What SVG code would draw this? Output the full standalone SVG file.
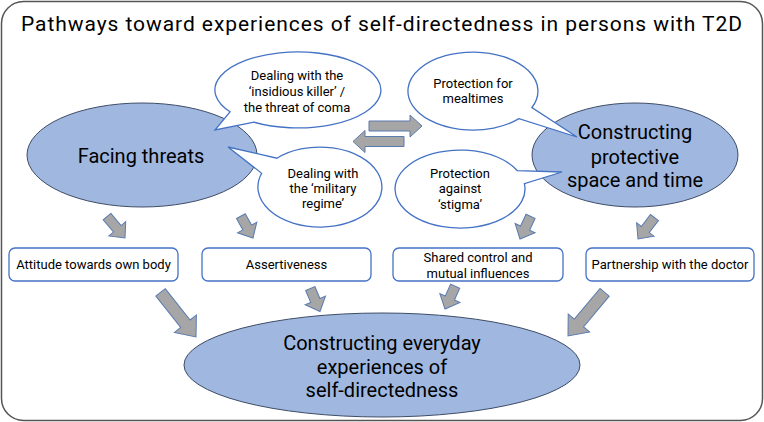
<svg xmlns="http://www.w3.org/2000/svg" width="764" height="422" viewBox="0 0 764 422">
<defs>
<style>
.t{font-family:Roboto,"Liberation Sans",sans-serif;fill:#000;text-anchor:middle}
.title{font-size:21px}
.big{font-size:20px}
.sm{font-size:13px}
.ell{fill:#a0b8e0;stroke:#3e4c66;stroke-width:1}
.bub{fill:#fff;stroke:#4472c4;stroke-width:1.3}
.box{fill:#fff;stroke:#4472c4;stroke-width:1.3}
.arr{fill:#a6a6a6;stroke:#5a7bb0;stroke-width:1}
</style>
</defs>
<rect x="1.5" y="1.5" width="761" height="419" rx="22" fill="#fff" stroke="#555" stroke-width="1.5"/>
<text class="t title" x="381.5" y="31" textLength="721" lengthAdjust="spacing">Pathways toward experiences of self-directedness in persons with T2D</text>

<g id="facing-threats">
<ellipse class="ell" cx="142" cy="155" rx="115" ry="52"/>
<text class="t big" x="141" y="163">Facing threats</text>
</g>
<g id="constructing-protective">
<ellipse class="ell" cx="635" cy="155" rx="103" ry="52"/>
<text class="t big" x="635" y="139">Constructing</text>
<text class="t big" x="635" y="164">protective</text>
<text class="t big" x="635" y="187">space and time</text>
</g>

<g id="bubble-insidious">
<path class="bub" d="M230,111.8 A83,38 0 1 1 254,122.2 L215,130 Z"/>
<text class="t sm" x="297" y="80">Dealing with the</text>
<text class="t sm" x="297" y="96">‘insidious killer’ /</text>
<text class="t sm" x="297" y="112">the threat of coma</text>
</g>
<g id="bubble-military">
<path class="bub" d="M277,158.2 A62,40 0 1 1 261.7,173.3 L228,147 Z"/>
<text class="t sm" x="323" y="178">Dealing with</text>
<text class="t sm" x="323" y="193">the ‘military</text>
<text class="t sm" x="323" y="208">regime’</text>
</g>
<g id="bubble-mealtimes">
<path class="bub" d="M519,118.6 A65,39 0 1 1 531.9,107.5 L577,137 Z"/>
<text class="t sm" x="473" y="88">Protection for</text>
<text class="t sm" x="473" y="103">mealtimes</text>
</g>
<g id="bubble-stigma">
<path class="bub" d="M524.4,183.6 A65,39 0 1 1 517.4,170.7 L562,172 Z"/>
<text class="t sm" x="460" y="178">Protection</text>
<text class="t sm" x="460" y="193">against</text>
<text class="t sm" x="460" y="209">‘stigma’</text>
</g>

<g id="box-attitude">
<rect class="box" x="9" y="248" width="169" height="33" rx="6"/>
<text class="t sm" x="93.5" y="269">Attitude towards own body</text>
</g>
<g id="box-assertiveness">
<rect class="box" x="202" y="248" width="169" height="33" rx="6"/>
<text class="t sm" x="286.5" y="269">Assertiveness</text>
</g>
<g id="box-shared">
<rect class="box" x="393" y="248" width="170" height="33" rx="6"/>
<text class="t sm" x="478" y="262">Shared control and</text>
<text class="t sm" x="478" y="278">mutual influences</text>
</g>
<g id="box-partnership">
<rect class="box" x="586" y="248" width="168" height="33" rx="6"/>
<text class="t sm" x="670" y="269">Partnership with the doctor</text>
</g>

<g id="constructing-everyday">
<ellipse class="ell" cx="382" cy="365" rx="198" ry="52"/>
<text class="t big" x="382" y="350">Constructing everyday</text>
<text class="t big" x="382" y="374">experiences of</text>
<text class="t big" x="382" y="397">self-directedness</text>
</g>

<g id="connectors">
<path class="arr" transform="translate(422,126)" d="M-53,-5 L-12,-5 L-12,-11 L0,0 L-12,11 L-12,5 L-53,5 Z"/>
<path class="arr" transform="translate(353,141.5) rotate(180)" d="M-51,-5 L-12,-5 L-12,-11 L0,0 L-12,11 L-12,5 L-51,5 Z"/>
<path class="arr" transform="translate(125,238) rotate(50)" d="M-28,-5 L-12,-5 L-12,-11 L0,0 L-12,11 L-12,5 L-28,5 Z"/>
<path class="arr" transform="translate(253,238) rotate(61)" d="M-25,-5 L-12,-5 L-12,-11 L0,0 L-12,11 L-12,5 L-25,5 Z"/>
<path class="arr" transform="translate(520,239) rotate(115)" d="M-25,-5 L-12,-5 L-12,-11 L0,0 L-12,11 L-12,5 L-25,5 Z"/>
<path class="arr" transform="translate(638,239) rotate(127.5)" d="M-27,-5 L-12,-5 L-12,-11 L0,0 L-12,11 L-12,5 L-27,5 Z"/>
<path class="arr" transform="translate(196,337) rotate(51.5)" d="M-57,-6 L-17,-6 L-17,-14 L0,0 L-17,14 L-17,6 L-57,6 Z"/>
<path class="arr" transform="translate(320,311.5) rotate(67)" d="M-25,-5 L-12,-5 L-12,-11 L0,0 L-12,11 L-12,5 L-25,5 Z"/>
<path class="arr" transform="translate(445,309) rotate(114)" d="M-25,-5 L-12,-5 L-12,-11 L0,0 L-12,11 L-12,5 L-25,5 Z"/>
<path class="arr" transform="translate(568,336) rotate(130)" d="M-57,-6 L-17,-6 L-17,-14 L0,0 L-17,14 L-17,6 L-57,6 Z"/>
</g>
</svg>
